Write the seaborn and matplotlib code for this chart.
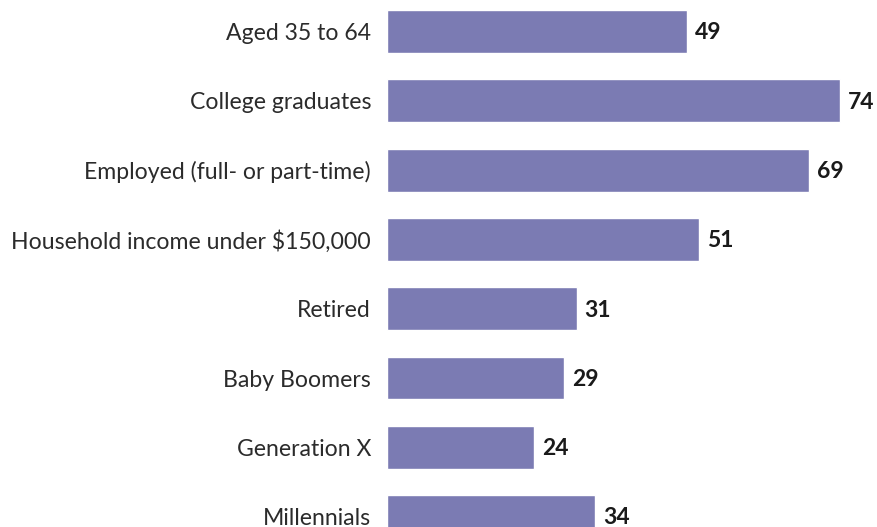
import matplotlib
matplotlib.use("Agg")
import matplotlib.pyplot as plt
import seaborn as sns
import pandas as pd

# data
groups = ["Aged 35 to 64", "College graduates", "Employed (full- or part-time)",
          "Household income under $150,000", "Retired", "Baby Boomers",
          "Generation X", "Millennials"]
shares = [49, 74, 69, 51, 31, 29, 24, 34]

df = pd.DataFrame({"group": groups, "share": shares})

sns.set_theme(style="white")
plt.rcParams["font.family"] = ["Lato", "DejaVu Sans"]

fig = plt.figure(figsize=(8.77, 5.27), dpi=100)
ax = fig.add_axes([387 / 877, 0, 490 / 877, 1])

sns.barplot(data=df, x="share", y="group", orient="h", color="#7b7bb3",
            width=0.62, saturation=1, ax=ax)

for i, v in enumerate(shares):
    ax.text(v + 1.3, i + 0.02, str(v), va="center", ha="left", fontsize=16.5,
            fontweight="bold", color="#1a1a1a")

ax.set_xlim(0, 80.07)
ax.set_ylim(7.15, -0.4545)
ax.set_xlabel("")
ax.set_ylabel("")
ax.set_xticks([])
ax.tick_params(axis="y", length=0, pad=11.5, labelsize=16.6, labelcolor="#2b2b2b")
sns.despine(ax=ax, left=True, bottom=True)

fig.savefig("out.png", dpi=100)
